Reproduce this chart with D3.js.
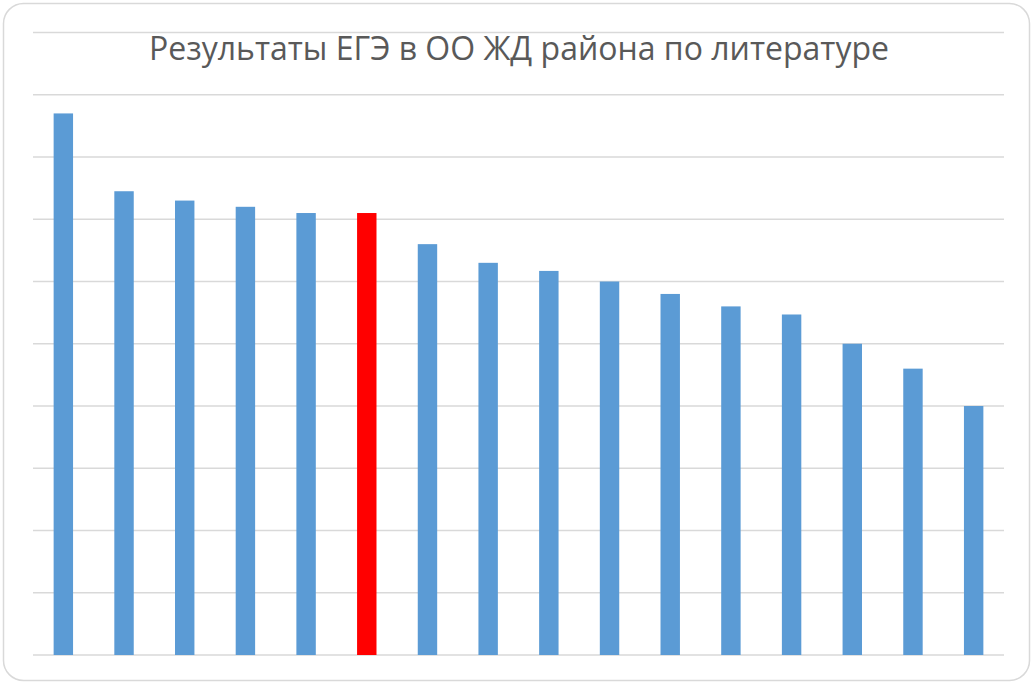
<!DOCTYPE html>
<html>
<head>
<meta charset="utf-8">
<script src="https://cdn.jsdelivr.net/npm/d3@7"></script>
<style>
  body { margin: 0; background: #fff; }
  svg { display: block; }
</style>
</head>
<body>
<svg id="chart"></svg>
<script>
// school labels are hidden on the original chart
const schools = ["ОО 1", "ОО 2", "ОО 3", "ОО 4", "ОО 5", "ОО 6", "ОО 7", "ОО 8",
                 "ОО 9", "ОО 10", "ОО 11", "ОО 12", "ОО 13", "ОО 14", "ОО 15", "ОО 16"];
const scores = [87, 74.5, 73, 72, 71, 71, 66, 63, 61.7, 60, 58, 56, 54.7, 50, 46, 40];
const highlight = "ОО 6";
const yTicks = [0, 10, 20, 30, 40, 50, 60, 70, 80, 90, 100];

const width = 1033, height = 684;
const margin = {top: 32.5, right: 29, bottom: 29, left: 33};

const svg = d3.select("#chart")
    .attr("width", width)
    .attr("height", height);

// chart border
svg.append("rect")
    .attr("x", 3.5).attr("y", 3.5)
    .attr("width", width - 7).attr("height", height - 7)
    .attr("rx", 20).attr("ry", 20)
    .attr("fill", "#fff")
    .attr("stroke", "#d9d9d9")
    .attr("stroke-width", 1.5);

const x = d3.scaleBand()
    .domain(schools)
    .range([margin.left, width - margin.right])
    .paddingInner(0.68)
    .paddingOuter(0.34);

const y = d3.scaleLinear()
    .domain([0, 100])
    .range([height - margin.bottom, margin.top]);

// gridlines
svg.append("g")
    .selectAll("line")
    .data(yTicks)
    .join("line")
    .attr("x1", margin.left)
    .attr("x2", width - margin.right)
    .attr("y1", d => y(d))
    .attr("y2", d => y(d))
    .attr("stroke", "#d9d9d9")
    .attr("stroke-width", 1.5);

// bars
svg.append("g")
    .selectAll("rect")
    .data(schools)
    .join("rect")
    .attr("x", d => x(d))
    .attr("width", x.bandwidth())
    .attr("y", (d, i) => y(scores[i]))
    .attr("height", (d, i) => y(0) - y(scores[i]))
    .attr("fill", d => d === highlight ? "#ff0000" : "#5b9bd5");

// title
svg.append("text")
    .attr("x", 519)
    .attr("y", 60)
    .attr("text-anchor", "middle")
    .attr("font-family", "'Open Sans', sans-serif")
    .attr("font-size", 32)
    .attr("fill", "#595959")
    .text("Результаты ЕГЭ в ОО ЖД района по литературе");
</script>
</body>
</html>
